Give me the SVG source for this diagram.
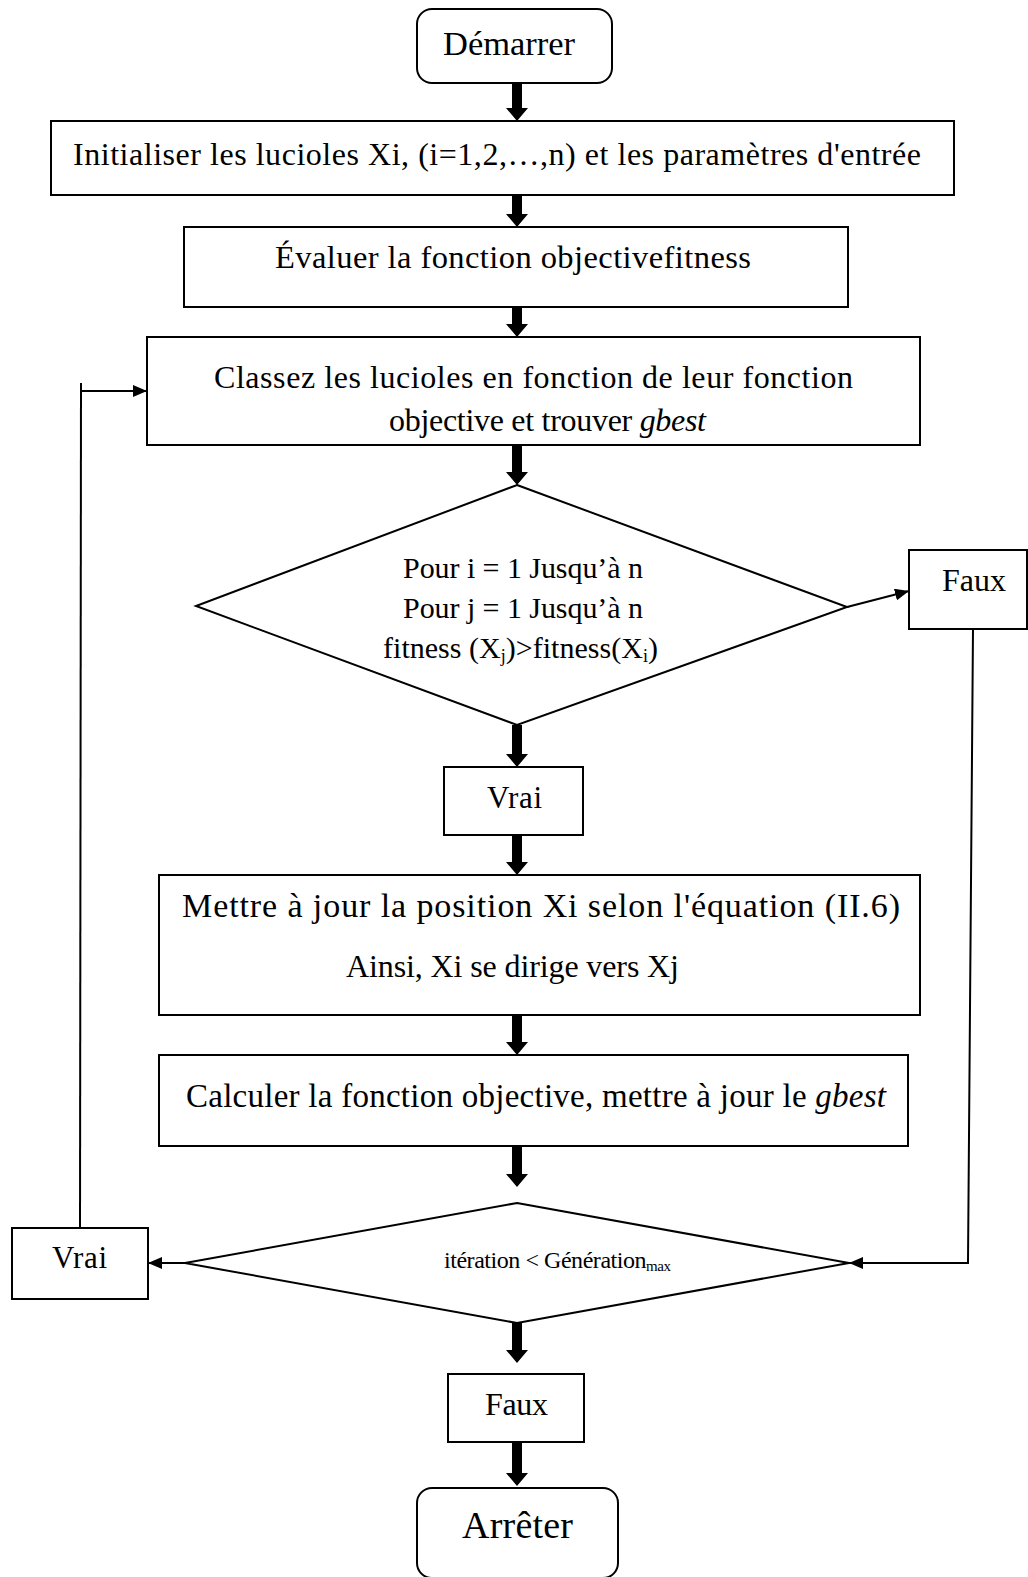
<svg xmlns="http://www.w3.org/2000/svg" width="1028" height="1577" viewBox="0 0 1028 1577">
<style>
.box{fill:#fff;stroke:#000;stroke-width:2}
.t{font-family:"Liberation Serif","Times New Roman",serif;font-size:32px;fill:#000}
.d{font-size:30px}
.ln{fill:none;stroke:#000;stroke-width:2}
.thick{fill:#000}
</style>
<defs>
<marker id="ah" viewBox="0 0 14 12" refX="14" refY="6" markerWidth="14" markerHeight="12" markerUnits="userSpaceOnUse" orient="auto">
<path d="M0,0 L14,6 L0,12 z" fill="#000"/>
</marker>
</defs>
<rect width="1028" height="1577" fill="#fff"/>

<g id="connectors">
<path class="thick" d="M512,83 h10 v25 h6 l-11,13 l-11,-13 h6 z"/>
<path class="thick" d="M512,195 h10 v19 h6 l-11,13 l-11,-13 h6 z"/>
<path class="thick" d="M512,307 h10 v17 h6 l-11,13 l-11,-13 h6 z"/>
<path class="thick" d="M512,445 h10 v27 h6 l-11,13 l-11,-13 h6 z"/>
<path class="thick" d="M512,725 h10 v29 h6 l-11,13 l-11,-13 h6 z"/>
<path class="thick" d="M512,835 h10 v27 h6 l-11,13 l-11,-13 h6 z"/>
<path class="thick" d="M512,1015 h10 v27 h6 l-11,13 l-11,-13 h6 z"/>
<path class="thick" d="M512,1146 h10 v28 h6 l-11,13 l-11,-13 h6 z"/>
<path class="thick" d="M512,1323 h10 v27 h6 l-11,13 l-11,-13 h6 z"/>
<path class="thick" d="M512,1442 h10 v31 h6 l-11,13 l-11,-13 h6 z"/>
<path class="ln" d="M847,607 L909,591" marker-end="url(#ah)"/>
<path class="ln" d="M973,629 L968,1263 L849,1263" marker-end="url(#ah)"/>
<path class="ln" d="M185,1263 L148,1263" marker-end="url(#ah)"/>
<path class="ln" d="M80,1228 L81,383"/>
<path class="ln" d="M80,391 L147,391" marker-end="url(#ah)"/>
</g>

<g id="start">
<rect class="box" x="417" y="9" width="195" height="74" rx="15"/>
<text class="t" x="443" y="55" style="font-size:34.5px" textLength="132">Démarrer</text>
</g>
<g id="init">
<rect class="box" x="51" y="121" width="903" height="74"/>
<text class="t" x="73" y="165" textLength="848">Initialiser les lucioles Xi, (i=1,2,…,n) et les paramètres d'entrée</text>
</g>
<g id="eval">
<rect class="box" x="184" y="227" width="664" height="80"/>
<text class="t" x="275" y="268" style="font-size:32.5px" textLength="476">Évaluer la fonction objectivefitness</text>
</g>
<g id="rank">
<rect class="box" x="147" y="337" width="773" height="108"/>
<text class="t" x="214" y="388" textLength="639">Classez les lucioles en fonction de leur fonction</text>
<text class="t" x="389" y="431" textLength="317">objective et trouver <tspan font-style="italic">gbest</tspan></text>
</g>
<g id="loopdecision">
<polygon class="box" points="517,485 847,607 517,725 196,606"/>
<text class="t d" x="403" y="578" textLength="240">Pour i = 1 Jusqu’à n</text>
<text class="t d" x="403" y="618" textLength="240">Pour j = 1 Jusqu’à n</text>
<text class="t d" x="383" y="658" textLength="275">fitness (X<tspan font-size="18" dy="4">j</tspan><tspan dy="-4">)&gt;fitness(X</tspan><tspan font-size="18" dy="4">i</tspan><tspan dy="-4">)</tspan></text>
</g>
<g id="faux1">
<rect class="box" x="909" y="550" width="118" height="79"/>
<text class="t" x="942" y="591" textLength="64">Faux</text>
</g>
<g id="vrai1">
<rect class="box" x="444" y="767" width="139" height="68"/>
<text class="t" x="487" y="808" style="font-size:31px" textLength="55">Vrai</text>
</g>
<g id="update">
<rect class="box" x="159" y="875" width="761" height="140"/>
<text class="t" x="182" y="917" style="font-size:34px" textLength="718">Mettre à jour la position Xi selon l'équation (II.6)</text>
<text class="t" x="346" y="977" textLength="333">Ainsi, Xi se dirige vers Xj</text>
</g>
<g id="calc">
<rect class="box" x="159" y="1055" width="749" height="91"/>
<text class="t" x="186" y="1107" style="font-size:33px" textLength="700">Calculer la fonction objective, mettre à jour le <tspan font-style="italic">gbest</tspan></text>
</g>
<g id="iterdecision">
<polygon class="box" points="517,1203 849,1263 517,1323 185,1263"/>
<text class="t" x="444" y="1268" style="font-size:24px" textLength="227">itération &lt; Génération<tspan font-size="15" dy="3">max</tspan></text>
</g>
<g id="vrai2">
<rect class="box" x="12" y="1228" width="136" height="71"/>
<text class="t" x="52" y="1268" style="font-size:31px" textLength="55">Vrai</text>
</g>
<g id="faux2">
<rect class="box" x="448" y="1374" width="136" height="68"/>
<text class="t" x="485" y="1415" textLength="63">Faux</text>
</g>
<g id="stop">
<rect class="box" x="417" y="1488" width="201" height="90" rx="15"/>
<text class="t" x="462" y="1538" style="font-size:38px" textLength="111">Arrêter</text>
</g>
</svg>
